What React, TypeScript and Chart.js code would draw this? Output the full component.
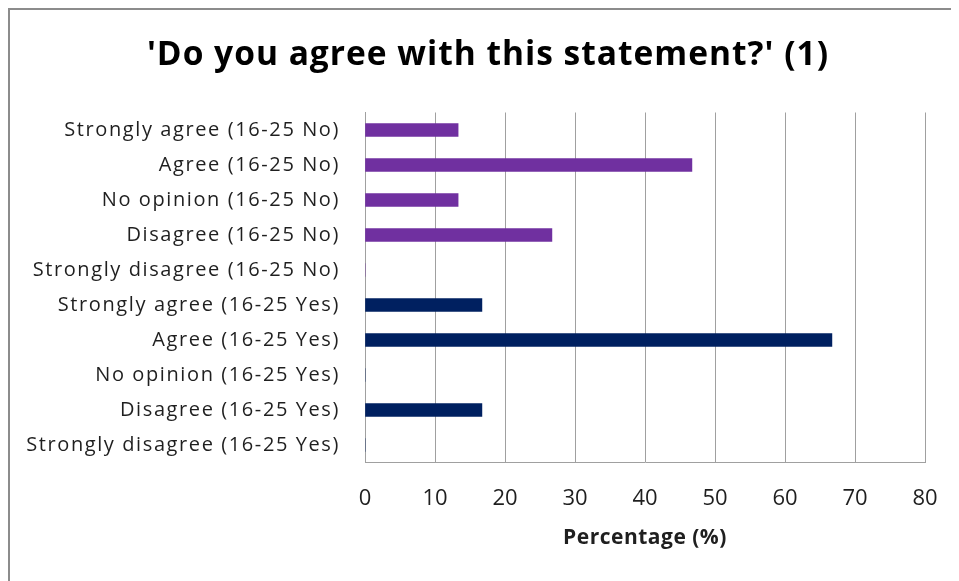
import React, { useEffect, useRef } from "react";
import { Chart, registerables } from "chart.js";

Chart.register(...registerables);

const TITLE = "'Do you agree with this statement?' (1)";
const X_TITLE = "Percentage (%)";
const categories = [
  "Strongly agree (16-25 No)",
  "Agree (16-25 No)",
  "No opinion (16-25 No)",
  "Disagree (16-25 No)",
  "Strongly disagree (16-25 No)",
  "Strongly agree (16-25 Yes)",
  "Agree (16-25 Yes)",
  "No opinion (16-25 Yes)",
  "Disagree (16-25 Yes)",
  "Strongly disagree (16-25 Yes)",
];
const values = [13.3, 46.7, 13.3, 26.7, 0, 16.7, 66.7, 0, 16.7, 0];
const groups = ["No", "No", "No", "No", "No", "Yes", "Yes", "Yes", "Yes", "Yes"];
const groupColors: Record<string, string> = { No: "#7030A0", Yes: "#002060" };
const xMin = 0;
const xMax = 80;
const xStep = 10;

const FONT = "'Open Sans', sans-serif";
const TITLE_SIZE = 33.5;
const LABEL_SIZE = 20;
const TICK_SIZE = 22;
const AXIS_TITLE_SIZE = 21;
const spacingBySize: Record<string, string> = {
  [String(TITLE_SIZE)]: "1px",
  [String(LABEL_SIZE)]: "1.6px",
  [String(AXIS_TITLE_SIZE)]: "0.5px",
};

const titlePlugin = {
  id: "centredTitle",
  afterDraw(chart: any) {
    const ctx = chart.ctx;
    ctx.save();
    ctx.font = `bold ${TITLE_SIZE}px ${FONT}`;
    ctx.fillStyle = "#000";
    ctx.textAlign = "center";
    ctx.textBaseline = "alphabetic";
    ctx.fillText(TITLE, chart.width / 2 + 3.5, 55);
    ctx.restore();
  },
};

export default function App() {
  const ref = useRef<HTMLCanvasElement | null>(null);
  useEffect(() => {
    const canvas = ref.current;
    if (!canvas) return;
    const ctx: any = canvas.getContext("2d");
    const origFill = ctx.fillText.bind(ctx);
    ctx.fillText = (text: string, x: number, y: number, maxWidth?: number) => {
      const m = /([\d.]+)px/.exec(ctx.font || "");
      const sp = m ? spacingBySize[String(parseFloat(m[1]))] : undefined;
      const prev = ctx.letterSpacing;
      if (sp && "letterSpacing" in ctx) ctx.letterSpacing = sp;
      if (maxWidth === undefined) origFill(text, x, y);
      else origFill(text, x, y, maxWidth);
      if ("letterSpacing" in ctx) ctx.letterSpacing = prev || "0px";
    };
    const chart = new Chart(canvas, {
      type: "bar",
      data: {
        labels: categories,
        datasets: [
          {
            data: values,
            backgroundColor: groups.map((g) => groupColors[g]),
            barThickness: 13,
          },
        ],
      },
      options: {
        indexAxis: "y",
        animation: false,
        responsive: false,
        maintainAspectRatio: false,
        layout: { padding: { left: 0, right: 34, top: 102.5, bottom: 0 } },
        plugins: {
          legend: { display: false },
          tooltip: { enabled: false },
          title: { display: false },
        },
        scales: {
          x: {
            min: xMin,
            max: xMax,
            afterFit: (s: any) => {
              s.height = 118.5;
              s.paddingLeft = 0;
              s.paddingRight = 0;
            },
            ticks: {
              stepSize: xStep,
              color: "#1f1f1f",
              font: { family: FONT, size: TICK_SIZE },
              padding: 23,
            },
            grid: { color: "#a0a0a0", lineWidth: 1, drawTicks: false },
            border: { display: true, color: "#a0a0a0", width: 1 },
            title: {
              display: true,
              text: X_TITLE,
              color: "#1f1f1f",
              font: { family: FONT, size: AXIS_TITLE_SIZE, weight: "bold" },
              padding: { top: 0, bottom: 30 },
            },
          },
          y: {
            afterFit: (s: any) => {
              s.width = 355;
              s.paddingTop = 0;
              s.paddingBottom = 0;
            },
            ticks: {
              color: "#1f1f1f",
              font: { family: FONT, size: LABEL_SIZE },
              padding: 25,
              autoSkip: false,
            },
            grid: { display: false, drawTicks: false },
            border: { display: true, color: "#a0a0a0", width: 1 },
          },
        },
      },
      plugins: [titlePlugin],
    });
    return () => chart.destroy();
  }, []);
  return (
    <>
      <style>{"html,body{overflow:hidden;}"}</style>
      <div
        style={{
          position: "relative",
          width: 951,
          height: 573,
          boxSizing: "border-box",
          borderTop: "2px solid #8c8c8c",
          borderLeft: "2px solid #8c8c8c",
          background: "#fff",
        }}
      >
        <canvas ref={ref} width={949} height={571} style={{ display: "block" }} />
      </div>
    </>
  );
}
